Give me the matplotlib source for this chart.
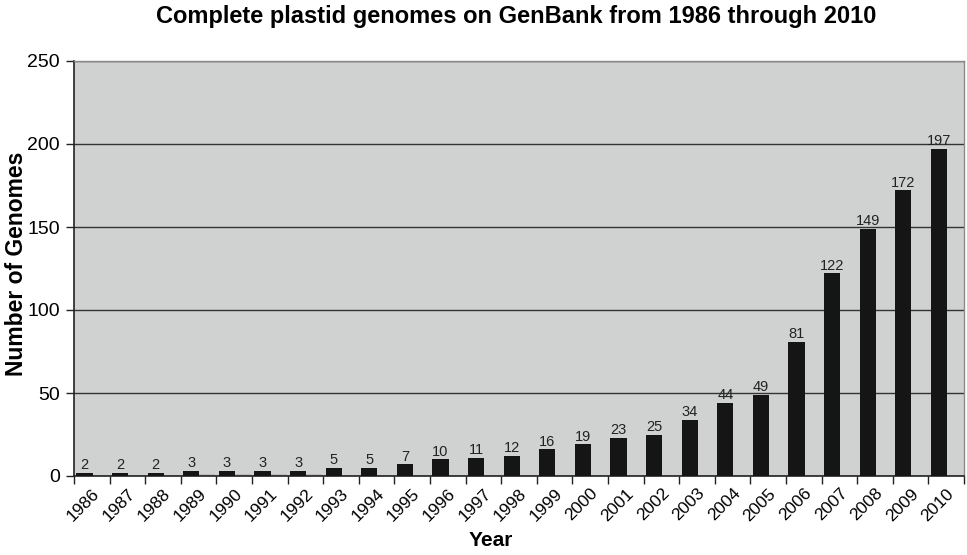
import matplotlib
matplotlib.use("Agg")
import matplotlib.pyplot as plt
import numpy as np

plt.rcParams['font.family'] = ['Liberation Sans', 'DejaVu Sans']

years = ['1986', '1987', '1988', '1989', '1990', '1991', '1992', '1993', '1994',
         '1995', '1996', '1997', '1998', '1999', '2000', '2001', '2002', '2003',
         '2004', '2005', '2006', '2007', '2008', '2009', '2010']
genomes = [2, 2, 2, 3, 3, 3, 3, 5, 5, 7, 10, 11, 12, 16, 19, 23, 25, 34,
           44, 49, 81, 122, 149, 172, 197]
# faint companion series
companion = [0, 0, 0, 1, 1, 1, 1, 0, 0, 0, 0, 0, 0, 0, 0, 0, 0, 0,
             0, 0, 0, 0, 0, 0, 0]
yticks = [0, 50, 100, 150, 200, 250]

fig = plt.figure(figsize=(9.67, 5.55), dpi=100)
ax = fig.add_axes([74 / 967, 1 - 476 / 555, 890 / 967, 415 / 555])
ax.set_facecolor('#d0d1d1')

x = np.arange(len(years))
w = 0.45
ax.bar(x - w / 2 + 0.02, genomes, width=w, color='#151515', zorder=3)
ax.bar(x + w / 2 + 0.02, companion, width=w, color='#b9baba', zorder=2)

for xi, v in zip(x, genomes):
    ax.text(xi - w / 2 + 0.02, v + 0.5, str(v), ha='center', va='bottom',
            fontsize=10.5, color='#222222', zorder=4)

ax.set_xlim(-0.5, len(years) - 0.5)
ax.set_ylim(0, 250)
ax.set_yticks(yticks)
ax.yaxis.grid(True, color='#333333', linewidth=1.0, zorder=1)
ax.set_axisbelow(True)

# category boundaries as ticks, labels at category centers
ax.set_xticks(np.arange(-0.5, len(years), 1.0))
ax.set_xticklabels([])
ax.set_xticks(x, minor=True)
ax.set_xticklabels(years, minor=True, rotation=45, ha='right',
                   rotation_mode='anchor', fontsize=12.5)
ax.tick_params(axis='x', which='major', length=6, width=1, color='#222222',
               direction='out')
ax.tick_params(axis='x', which='minor', length=0, pad=7)
ax.tick_params(axis='y', length=6, width=1, color='#222222', labelsize=14,
               direction='out', pad=4)

for side in ['left', 'bottom']:
    ax.spines[side].set_color('#222222')
    ax.spines[side].set_linewidth(1.2)
for side in ['top', 'right']:
    ax.spines[side].set_color('#8a8a8a')
    ax.spines[side].set_linewidth(1.0)

fig.text(17 / 967, 1 - 264 / 555, 'Number of Genomes', rotation=90,
         ha='center', va='center', fontsize=16.5, fontweight='bold')
fig.text(491 / 967, 1 - 541 / 555, 'Year', ha='center', va='center',
         fontsize=15, fontweight='bold')
fig.text(516 / 967, 1 - 17 / 555,
         'Complete plastid genomes on GenBank from 1986 through 2010',
         ha='center', va='center', fontsize=17, fontweight='bold')

fig.savefig('out.png', dpi=100)
